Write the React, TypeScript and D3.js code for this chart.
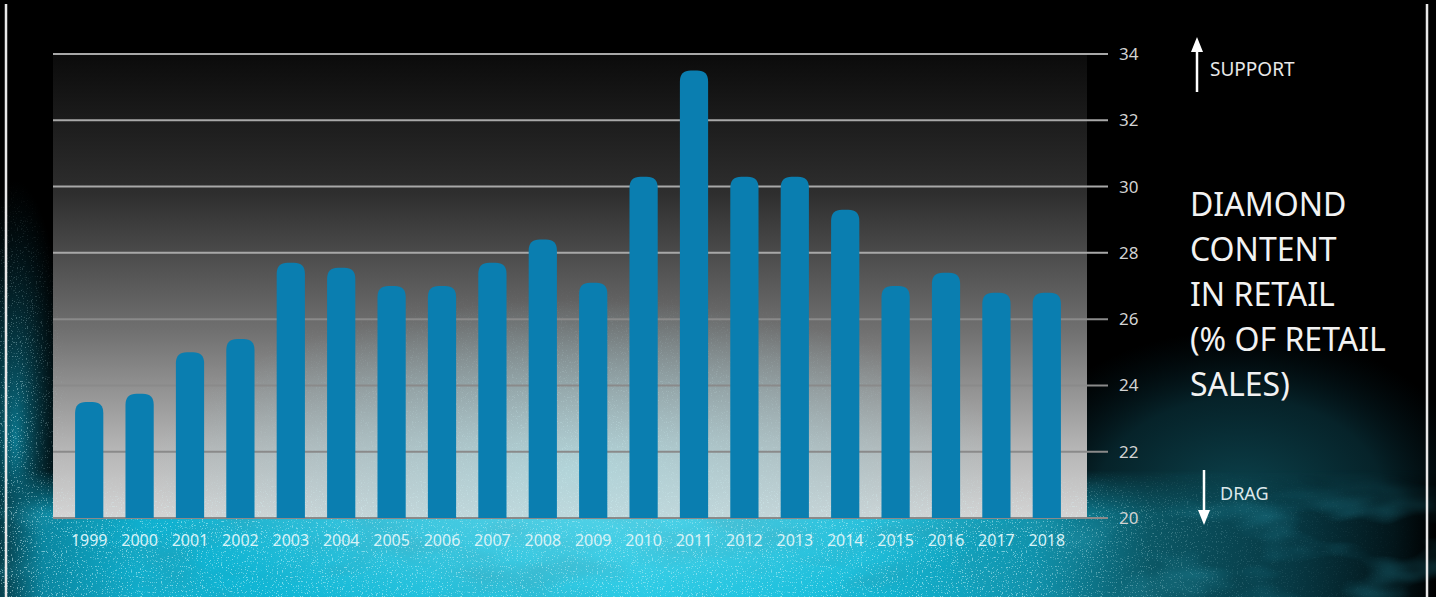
import React from "react";
import * as d3 from "d3";

const years = ["1999","2000","2001","2002","2003","2004","2005","2006","2007","2008","2009","2010","2011","2012","2013","2014","2015","2016","2017","2018"];
const values = [23.5,23.75,25.0,25.4,27.7,27.55,27.0,27.0,27.7,28.4,27.1,30.3,33.5,30.3,30.3,29.3,27.0,27.4,26.8,26.8];
const yTicks = [20,22,24,26,28,30,32,34];
const titleLines = ["DIAMOND","CONTENT","IN RETAIL","(% OF RETAIL","SALES)"];

const W = 1436, H = 597;
const plotL = 53, plotR = 1087, plotT = 54, plotB = 518;
const FONT = "'Source Sans Pro', 'Noto Sans', 'Open Sans', sans-serif";

export default function App() {
  const x = d3.scaleBand<string>().domain(years).range([64, 1072]).paddingInner(0.44).paddingOuter(0.22);
  const y = d3.scaleLinear().domain([20, 34]).range([plotB, plotT]);
  const bw = x.bandwidth();
  const r = 11;

  const barPath = (v: number, xs: number) => {
    const top = y(v), bot = y(20);
    const p = d3.path();
    p.moveTo(xs, bot);
    p.lineTo(xs, top + r);
    p.quadraticCurveTo(xs, top, xs + r, top);
    p.lineTo(xs + bw - r, top);
    p.quadraticCurveTo(xs + bw, top, xs + bw, top + r);
    p.lineTo(xs + bw, bot);
    p.closePath();
    return p.toString();
  };

  return (
    <svg width={W} height={H} style={{ position: "absolute", left: 0, top: 0, display: "block" }}>
      <defs>
        <linearGradient id="plotBg" x1="0" y1="0" x2="0" y2="1">
          <stop offset="0" stopColor="#0b0b0b" />
          <stop offset="0.3" stopColor="#2e2e2e" />
          <stop offset="0.6" stopColor="#717171" />
          <stop offset="0.85" stopColor="#b5b5b5" />
          <stop offset="1" stopColor="#d4d4d4" />
        </linearGradient>
        <linearGradient id="bandH" x1="0" y1="0" x2={W} y2="0" gradientUnits="userSpaceOnUse">
          <stop offset="0" stopColor="#063c48" />
          <stop offset="0.03" stopColor="#0a86a0" />
          <stop offset="0.1" stopColor="#10b0cf" />
          <stop offset="0.3" stopColor="#13bedc" />
          <stop offset="0.45" stopColor="#16c8e5" />
          <stop offset="0.6" stopColor="#13bbd9" />
          <stop offset="0.72" stopColor="#0f92ac" />
          <stop offset="0.8" stopColor="#0b5866" />
          <stop offset="0.9" stopColor="#073843" />
          <stop offset="0.97" stopColor="#03161b" />
          <stop offset="1" stopColor="#000" />
        </linearGradient>
        <linearGradient id="bandV" x1="0" y1="0" x2="0" y2="1">
          <stop offset="0" stopColor="#fff" stopOpacity="0" />
          <stop offset="0.35" stopColor="#fff" stopOpacity="1" />
          <stop offset="1" stopColor="#fff" stopOpacity="1" />
        </linearGradient>
        <linearGradient id="fadeH" x1="0" y1="0" x2={W} y2="0" gradientUnits="userSpaceOnUse">
          <stop offset="0" stopColor="#fff" stopOpacity="1" />
          <stop offset="0.7" stopColor="#fff" stopOpacity="1" />
          <stop offset="0.88" stopColor="#fff" stopOpacity="0.15" />
          <stop offset="1" stopColor="#fff" stopOpacity="0" />
        </linearGradient>
        <radialGradient id="whiteGlow" cx="0.5" cy="0.5" r="0.5">
          <stop offset="0" stopColor="#fff" stopOpacity="1" />
          <stop offset="1" stopColor="#fff" stopOpacity="0" />
        </radialGradient>
        <mask id="bandMask">
          <rect x={0} y={470} width={W} height={H - 470} fill="url(#bandV)" />
        </mask>
        <mask id="fadeMask">
          <rect x={0} y={0} width={W} height={H} fill="url(#fadeH)" />
        </mask>
        <mask id="speckMask">
          <rect x={0} y={470} width={W} height={H - 470} fill="url(#bandV)" />
          <ellipse cx={15} cy={440} rx={55} ry={260} fill="url(#whiteGlow)" />
          <ellipse cx={580} cy={430} rx={430} ry={150} fill="url(#whiteGlow)" opacity={0.6} />
        </mask>
        <radialGradient id="rightGlow" cx="0.5" cy="0.5" r="0.5">
          <stop offset="0" stopColor="#0d4853" stopOpacity="0.95" />
          <stop offset="0.6" stopColor="#0a3a45" stopOpacity="0.6" />
          <stop offset="1" stopColor="#05202a" stopOpacity="0" />
        </radialGradient>
        <radialGradient id="leftGlow" cx="0.5" cy="0.5" r="0.5">
          <stop offset="0" stopColor="#0c8aa5" stopOpacity="0.85" />
          <stop offset="1" stopColor="#04303c" stopOpacity="0" />
        </radialGradient>
        <radialGradient id="hazeGlow" cx="0.5" cy="0.5" r="0.5">
          <stop offset="0" stopColor="#a8e6ef" stopOpacity="0.55" />
          <stop offset="0.6" stopColor="#9ad8e4" stopOpacity="0.25" />
          <stop offset="1" stopColor="#9ad8e4" stopOpacity="0" />
        </radialGradient>
        <linearGradient id="frameTop" x1="0" y1="0" x2="1" y2="0">
          <stop offset="0" stopColor="#ffffff" />
          <stop offset="0.2" stopColor="#999" />
          <stop offset="0.5" stopColor="#444" />
          <stop offset="0.8" stopColor="#999" />
          <stop offset="1" stopColor="#ffffff" />
        </linearGradient>
        <filter id="speckle" x="0" y="0" width="100%" height="100%">
          <feTurbulence type="fractalNoise" baseFrequency="0.8" numOctaves="2" seed="4" result="n" />
          <feColorMatrix in="n" type="matrix" values="0 0 0 0 0.7  0 0 0 0 0.97  0 0 0 0 1  0 0 0 10 -6.2" />
        </filter>
        <filter id="cloud" x="0" y="0" width="100%" height="100%">
          <feTurbulence type="fractalNoise" baseFrequency="0.01 0.025" numOctaves="3" seed="7" result="n" />
          <feColorMatrix in="n" type="matrix" values="0 0 0 0 0.02  0 0 0 0 0.3  0 0 0 0 0.4  0 0 0 2.2 -1.0" />
        </filter>
      </defs>

      <rect x={0} y={0} width={W} height={H} fill="#000" />
      {/* cyan dust background */}
      <ellipse cx={1240} cy={500} rx={240} ry={170} fill="url(#rightGlow)" />
      <ellipse cx={15} cy={440} rx={55} ry={260} fill="url(#leftGlow)" />
      <rect x={0} y={470} width={W} height={H - 470} fill="url(#bandH)" mask="url(#bandMask)" />
      <rect x={0} y={470} width={W} height={H - 470} filter="url(#cloud)" opacity={0.45} mask="url(#bandMask)" />
      <g mask="url(#fadeMask)">
        <rect x={0} y={150} width={W} height={H - 150} filter="url(#speckle)" opacity={0.5} mask="url(#speckMask)" />
      </g>

      {/* plot area */}
      <rect x={plotL} y={plotT} width={plotR - plotL} height={plotB - plotT} fill="url(#plotBg)" />
      <ellipse cx={580} cy={470} rx={430} ry={170} fill="url(#hazeGlow)" />
      <rect x={plotL} y={250} width={plotR - plotL} height={plotB - 250} filter="url(#speckle)" opacity={0.35} mask="url(#speckMask)" />

      {/* grid lines */}
      {yTicks.map((t) => (
        <line key={t} x1={plotL} x2={1108} y1={y(t)} y2={y(t)} stroke={t >= 28 ? "#a8a8a8" : "#8a8a8a"} strokeWidth={2} />
      ))}

      {/* bars */}
      {values.map((v, i) => (
        <path key={years[i]} d={barPath(v, x(years[i]) as number)} fill="#0a7eb0" />
      ))}

      {/* y tick labels */}
      {yTicks.map((t) => (
        <text key={t} x={1119} y={y(t) + 6} fontFamily={FONT} fontSize={17} fill="#d2d2d2">{t}</text>
      ))}

      {/* x labels */}
      {years.map((yr) => (
        <text key={yr} x={(x(yr) as number) + bw / 2} y={546} textAnchor="middle" fontFamily={FONT} fontSize={16} fill="#d8f2f7">{yr}</text>
      ))}

      {/* SUPPORT arrow */}
      <line x1={1197} x2={1197} y1={50} y2={92} stroke="#fff" strokeWidth={2.5} />
      <path d="M1191,52 L1197,37 L1203,52 Z" fill="#fff" />
      <text x={1210} y={76} fontFamily={FONT} fontSize={19} fill="#e8e8e8">SUPPORT</text>

      {/* DRAG arrow */}
      <line x1={1204} x2={1204} y1={470} y2={512} stroke="#fff" strokeWidth={2.5} />
      <path d="M1198,510 L1204,525 L1210,510 Z" fill="#fff" />
      <text x={1220} y={500} fontFamily={FONT} fontSize={18} fill="#dce8ea">DRAG</text>

      {/* title */}
      {titleLines.map((l, i) => (
        <text key={l} x={1190} y={216 + i * 45} fontFamily={FONT} fontSize={32} fill="#f2f2f2">{l}</text>
      ))}

      {/* frame */}
      <line x1={6} x2={6} y1={4} y2={H} stroke="#e8e8e8" strokeWidth={2.5} />
      <line x1={1427} x2={1427} y1={4} y2={H} stroke="#e8e8e8" strokeWidth={2.5} />
      <line x1={6} x2={1427} y1={4} y2={4} stroke="url(#frameTop)" strokeWidth={2.5} />
    </svg>
  );
}
